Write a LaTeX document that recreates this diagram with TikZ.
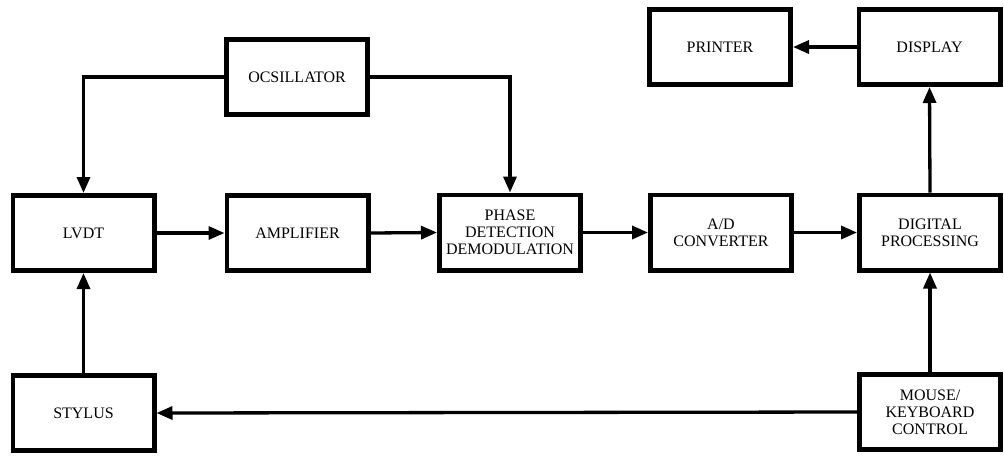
\documentclass[tikz,border=0pt]{standalone}
\usepackage{fontspec}
\setmainfont{Liberation Serif}
\usetikzlibrary{arrows.meta}
\begin{document}
\begin{tikzpicture}[x=1pt,y=-1pt,
  blk/.style={draw, line width=4.6pt, minimum width=141.4pt, minimum height=75.4pt,
    inner sep=0pt, align=center, font=\fontsize{16}{16.8}\selectfont},
  conn/.style={line width=3.3pt, -{Triangle[length=16pt,width=13pt]}}]
\useasboundingbox (0,0) rectangle (1004,459);
\node[blk] (osc) at (297,77) {OCSILLATOR};
\node[blk] (lvdt) at (83.5,233) {LVDT};
\node[blk] (amp) at (297.5,233) {AMPLIFIER};
\node[blk] (phase) at (510,232.5) {PHASE\\DETECTION\\DEMODULATION};
\node[blk] (ad) at (721,232.5) {A/D\\CONVERTER};
\node[blk] (dig) at (930,232.5) {DIGITAL\\PROCESSING};
\node[blk] (printer) at (720,47) {PRINTER};
\node[blk] (display) at (929.5,47) {DISPLAY};
\node[blk] (stylus) at (83.5,413) {STYLUS};
\node[blk] (mouse) at (930,412) {MOUSE/\\KEYBOARD\\CONTROL};
\draw[conn] (osc.west) -| (lvdt.north);
\draw[conn] (osc.east) -| (phase.north);
\draw[conn] (lvdt.east) -- (amp.west);
\draw[conn] (amp.east) -- (phase.west);
\draw[conn] (phase.east) -- (ad.west);
\draw[conn] (ad.east) -- (dig.west);
\draw[conn] (dig.north) -- (display.south);
\draw[conn] (display.west) -- (printer.east);
\draw[conn] (mouse.north) -- (dig.south);
\draw[conn] (mouse.west) -- (stylus.east);
\draw[conn] (stylus.north) -- (lvdt.south);
\end{tikzpicture}
\end{document}
